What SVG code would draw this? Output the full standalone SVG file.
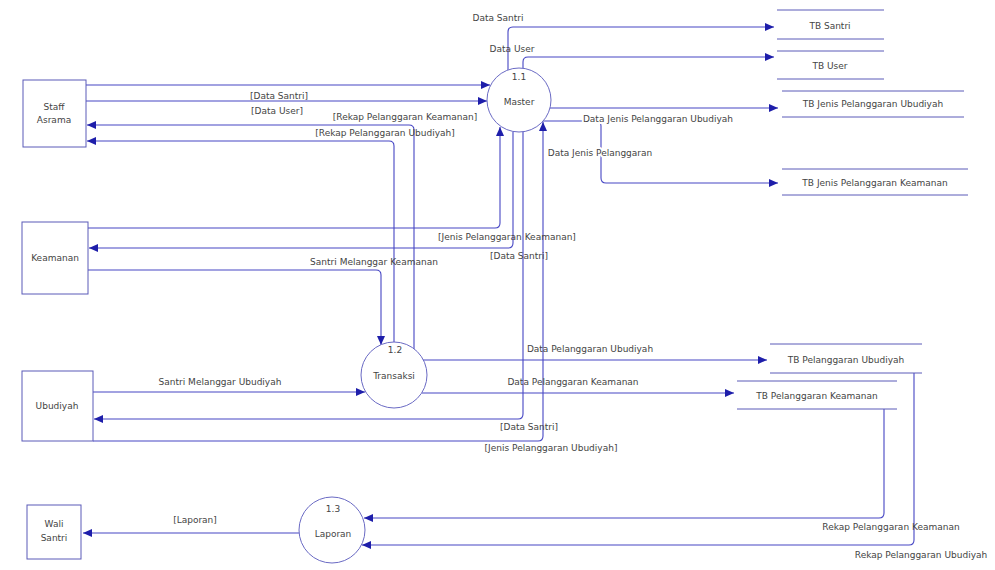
<svg xmlns="http://www.w3.org/2000/svg" width="995" height="570" viewBox="0 0 995 570">
<style>
.bg{fill:#ffffff}
.ent{fill:#ffffff;stroke:#5a5ab8;stroke-width:1}
.proc{fill:#ffffff;stroke:#6a6ac4;stroke-width:1}
.store{stroke:#5a5ab8;stroke-width:1}
.flow{fill:none;stroke:#4646c4;stroke-width:1.1}
text{font-family:"DejaVu Sans","Liberation Sans",sans-serif;font-size:9px;fill:#444;text-anchor:middle}
.halo{paint-order:stroke;stroke:#ffffff;stroke-width:4px}
</style>
<defs>
<marker id="arr" markerUnits="userSpaceOnUse" markerWidth="10" markerHeight="8" refX="9" refY="4" orient="auto">
<path d="M0,0 L9,4 L0,8 z" fill="#1e1eaa"/>
</marker>
</defs>
<rect class="bg" x="0" y="0" width="995" height="570"/>

<g id="connectors">
<path class="flow" d="M86,85 H490" marker-end="url(#arr)"/>
<path class="flow" d="M86,101 H487" marker-end="url(#arr)"/>
<path class="flow" d="M414,349 V130 Q414,125 409,125 H87" marker-end="url(#arr)"/>
<path class="flow" d="M394,342 V146 Q394,141 389,141 H87" marker-end="url(#arr)"/>
<path class="flow" d="M88,228 H495 Q500,228 500,223 V127" marker-end="url(#arr)"/>
<path class="flow" d="M513,131.5 V243 Q513,248 508,248 H89" marker-end="url(#arr)"/>
<path class="flow" d="M88,270 H376 Q381,270 381,275 V345" marker-end="url(#arr)"/>
<path class="flow" d="M93,392 H365" marker-end="url(#arr)"/>
<path class="flow" d="M523,131.7 V414 Q523,419 518,419 H94" marker-end="url(#arr)"/>
<path class="flow" d="M93,441 H538 Q543,441 543,436 V122" marker-end="url(#arr)"/>
<path class="flow" d="M508,70 V32 Q508,27 513,27 H774" marker-end="url(#arr)"/>
<path class="flow" d="M523,68.3 V62 Q523,57 528,57 H774" marker-end="url(#arr)"/>
<path class="flow" d="M550,108 H778" marker-end="url(#arr)"/>
<path class="flow" d="M543,121 H596 Q601,121 601,126 V178 Q601,183 606,183 H778" marker-end="url(#arr)"/>
<path class="flow" d="M423,360 H767" marker-end="url(#arr)"/>
<path class="flow" d="M421.7,393 H734" marker-end="url(#arr)"/>
<path class="flow" d="M884,409 V513 Q884,518 879,518 H364" marker-end="url(#arr)"/>
<path class="flow" d="M914,373 V540 Q914,545 909,545 H362" marker-end="url(#arr)"/>
<path class="flow" d="M299,533 H83" marker-end="url(#arr)"/>

<text x="498" y="21">Data Santri</text>
<text x="512" y="52">Data User</text>
<text x="279" y="99">[Data Santri]</text>
<text x="277" y="114">[Data User]</text>
<text x="405" y="120">[Rekap Pelanggaran Keamanan]</text>
<text x="385" y="136">[Rekap Pelanggaran Ubudiyah]</text>
<text class="halo" x="658" y="122">Data Jenis Pelanggaran Ubudiyah</text>
<text class="halo" x="600" y="156">Data Jenis Pelanggaran</text>
<text x="507" y="240">[Jenis Pelanggaran Keamanan]</text>
<text x="519" y="259">[Data Santri]</text>
<text x="374" y="265">Santri Melanggar Keamanan</text>
<text x="590" y="352">Data Pelanggaran Ubudiyah</text>
<text x="220" y="385">Santri Melanggar Ubudiyah</text>
<text x="573" y="385">Data Pelanggaran Keamanan</text>
<text x="529" y="430">[Data Santri]</text>
<text x="551" y="451">[Jenis Pelanggaran Ubudiyah]</text>
<text x="195" y="523">[Laporan]</text>
<text x="891" y="530">Rekap Pelanggaran Keamanan</text>
<text x="921" y="558">Rekap Pelanggaran Ubudiyah</text>
</g>

<g id="staff-asrama">
<rect class="ent" x="23" y="80" width="63" height="67"/>
<text x="54" y="110">Staff</text>
<text x="54" y="123">Asrama</text>
</g>
<g id="keamanan">
<rect class="ent" x="22" y="222" width="66" height="72"/>
<text x="55" y="261">Keamanan</text>
</g>
<g id="ubudiyah">
<rect class="ent" x="22" y="371" width="71" height="70"/>
<text x="57" y="409">Ubudiyah</text>
</g>
<g id="wali-santri">
<rect class="ent" x="27" y="505" width="54" height="54"/>
<text x="54" y="527">Wali</text>
<text x="54" y="541">Santri</text>
</g>

<g id="master">
<circle class="proc" cx="519" cy="100" r="32"/>
<text x="519" y="80">1.1</text>
<text x="519" y="105">Master</text>
</g>
<g id="transaksi">
<circle class="proc" cx="394" cy="375" r="33"/>
<text x="395" y="353">1.2</text>
<text x="394" y="379">Transaksi</text>
</g>
<g id="laporan">
<circle class="proc" cx="332" cy="530" r="33"/>
<text x="333" y="512">1.3</text>
<text x="333" y="537">Laporan</text>
</g>

<g id="tb-santri">
<line class="store" x1="777" y1="10" x2="884" y2="10"/>
<line class="store" x1="777" y1="39" x2="884" y2="39"/>
<text x="830" y="29">TB Santri</text>
</g>
<g id="tb-user">
<line class="store" x1="777" y1="51" x2="884" y2="51"/>
<line class="store" x1="777" y1="79" x2="884" y2="79"/>
<text x="830" y="69">TB User</text>
</g>
<g id="tb-jenis-ubudiyah">
<line class="store" x1="782" y1="91" x2="964" y2="91"/>
<line class="store" x1="782" y1="117" x2="964" y2="117"/>
<text x="873" y="107">TB Jenis Pelanggaran Ubudiyah</text>
</g>
<g id="tb-jenis-keamanan">
<line class="store" x1="782" y1="169" x2="968" y2="169"/>
<line class="store" x1="782" y1="195" x2="968" y2="195"/>
<text x="875" y="186">TB Jenis Pelanggaran Keamanan</text>
</g>
<g id="tb-pelanggaran-ubudiyah">
<line class="store" x1="770" y1="344" x2="922" y2="344"/>
<line class="store" x1="770" y1="373" x2="922" y2="373"/>
<text x="846" y="363">TB Pelanggaran Ubudiyah</text>
</g>
<g id="tb-pelanggaran-keamanan">
<line class="store" x1="737" y1="381" x2="897" y2="381"/>
<line class="store" x1="737" y1="409" x2="897" y2="409"/>
<text x="817" y="399">TB Pelanggaran Keamanan</text>
</g>
</svg>
